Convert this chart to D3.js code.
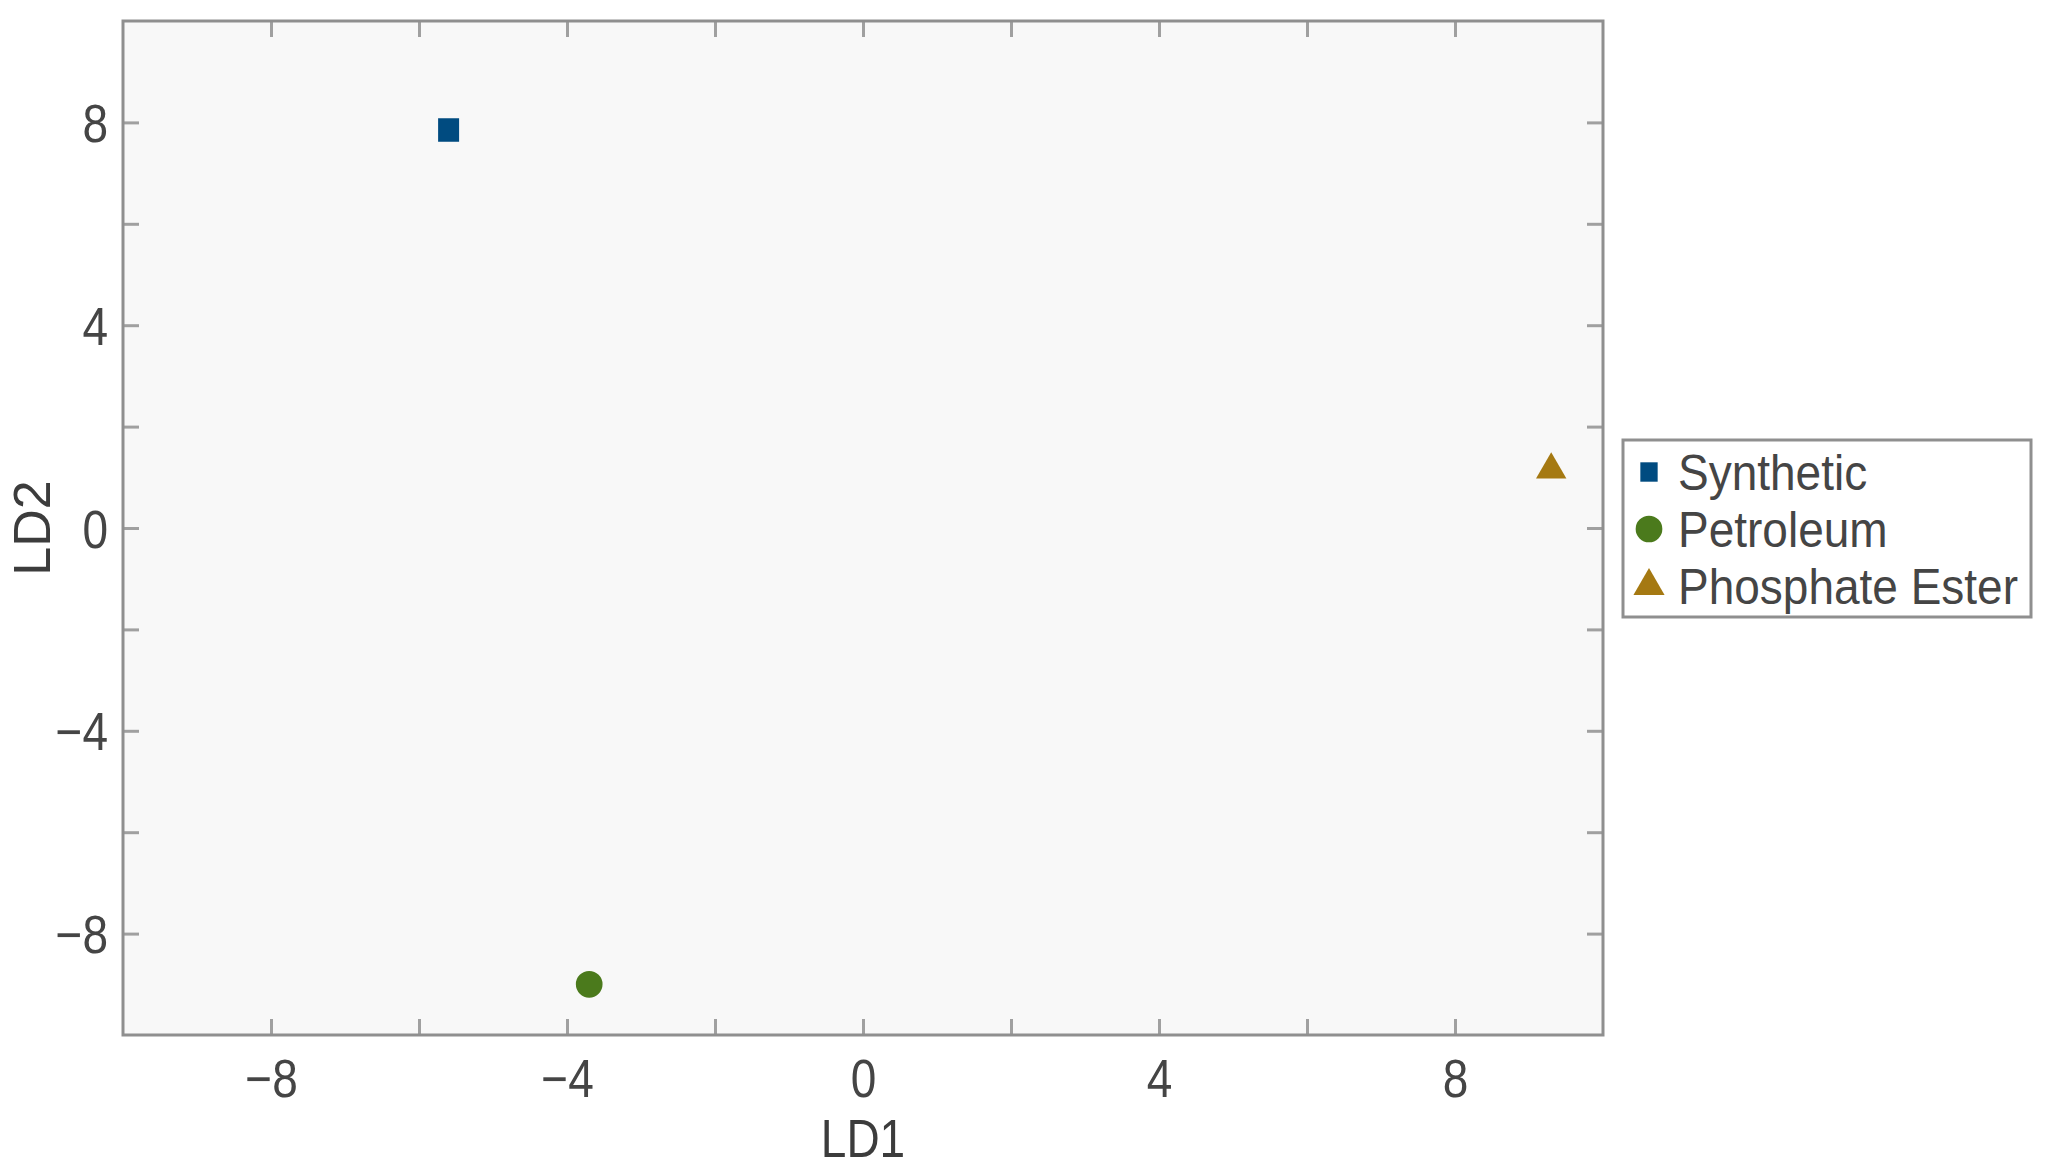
<!DOCTYPE html>
<html>
<head>
<meta charset="utf-8">
<script src="https://cdn.jsdelivr.net/npm/d3@7"></script>
<style>
  html, body { margin: 0; padding: 0; background: #ffffff; }
  svg { display: block; }
  text { font-family: "Liberation Sans", Arial, Helvetica, sans-serif; }
</style>
</head>
<body>
<svg id="chart" width="2049" height="1173"></svg>
<script>
// ---- data ----
const seriesNames = ["Synthetic", "Petroleum", "Phosphate Ester"];
const ld1Values = [-5.6, -3.7, 9.3];
const ld2Values = [7.85, -9.0, 1.15];
const seriesColors = ["#004b80", "#4b7a1c", "#a57912"];
const seriesShapes = ["square", "circle", "triangle"];
const xDomain = [-10, 10];
const yDomain = [-10, 10];
const tickValuesX = [-8, -6, -4, -2, 0, 2, 4, 6, 8];
const tickValuesY = [-8, -6, -4, -2, 0, 2, 4, 6, 8];
const labeledTicks = [-8, -4, 0, 4, 8];
const xLabel = "LD1";
const yLabel = "LD2";

// ---- layout ----
const W = 2049, H = 1173;
const plot = { left: 123, right: 1603, top: 21, bottom: 1035 };
const SY = 1.15; // vertical text stretch seen in the reference
const textColor = "#454545";
const axisColor = "#8f8f8f";

const svg = d3.select("#chart");
const x = d3.scaleLinear().domain(xDomain).range([plot.left, plot.right]);
const y = d3.scaleLinear().domain(yDomain).range([plot.bottom, plot.top]);

// plot background
svg.append("rect")
  .attr("x", plot.left).attr("y", plot.top)
  .attr("width", plot.right - plot.left).attr("height", plot.bottom - plot.top)
  .attr("fill", "#f8f8f8");

const fmt = d => labeledTicks.includes(d) ? d3.format("")(d) : "";

function styleAxis(g) {
  g.select(".domain").remove();
  g.selectAll(".tick line").attr("stroke", "#a0a0a0").attr("stroke-width", 3);
}

// bottom axis
const gx = svg.append("g").attr("transform", `translate(0,${plot.bottom})`)
  .call(d3.axisBottom(x).tickValues(tickValuesX).tickFormat(fmt).tickSizeInner(-16).tickSizeOuter(0));
styleAxis(gx);
gx.selectAll(".tick text")
  .attr("fill", textColor).attr("font-size", 46)
  .attr("y", 43 / SY).attr("dy", "0.36em")
  .attr("transform", `scale(1,${SY})`);

// top axis (mirrored ticks)
const gxt = svg.append("g").attr("transform", `translate(0,${plot.top})`)
  .call(d3.axisTop(x).tickValues(tickValuesX).tickFormat("").tickSizeInner(-16).tickSizeOuter(0));
styleAxis(gxt);

// left axis
const gy = svg.append("g").attr("transform", `translate(${plot.left},0)`)
  .call(d3.axisLeft(y).tickValues(tickValuesY).tickFormat(fmt).tickSizeInner(-16).tickSizeOuter(0));
styleAxis(gy);
gy.selectAll(".tick").each(function(d) {
  const t = d3.select(this).select("text");
  t.attr("fill", textColor).attr("font-size", 46)
   .attr("x", -15).attr("y", 0).attr("dy", "0.36em")
   .attr("text-anchor", "end")
   .attr("transform", `scale(1,${SY})`);
  // compensate translation: the tick group is translated; scale applies within text only
  t.attr("y", 0);
});

// right axis (mirrored ticks)
const gyr = svg.append("g").attr("transform", `translate(${plot.right},0)`)
  .call(d3.axisRight(y).tickValues(tickValuesY).tickFormat("").tickSizeInner(-16).tickSizeOuter(0));
styleAxis(gyr);

// frame
svg.append("rect")
  .attr("x", plot.left).attr("y", plot.top)
  .attr("width", plot.right - plot.left).attr("height", plot.bottom - plot.top)
  .attr("fill", "none").attr("stroke", axisColor).attr("stroke-width", 3);

// axis labels
svg.append("text")
  .attr("transform", `translate(${(plot.left + plot.right) / 2},1138) scale(1,${SY})`)
  .attr("text-anchor", "middle").attr("dy", "0.36em")
  .attr("font-size", 46).attr("fill", "#3c3c3c")
  .text(xLabel);

svg.append("text")
  .attr("transform", `translate(31,${(plot.top + plot.bottom) / 2}) rotate(-90)`)
  .attr("text-anchor", "middle").attr("dy", "0.36em")
  .attr("font-size", 52).attr("fill", "#3c3c3c")
  .text(yLabel);

// symbols
const symbolTypes = { square: d3.symbolSquare, circle: d3.symbolCircle, triangle: d3.symbolTriangle };
const symbolSizes = { square: 441, circle: 560, triangle: 400 };
const points = seriesNames.map((n, i) => ({
  name: n, x: ld1Values[i], y: ld2Values[i], color: seriesColors[i], shape: seriesShapes[i]
}));

svg.append("g").selectAll("path").data(points).join("path")
  .attr("d", d => d3.symbol(symbolTypes[d.shape], symbolSizes[d.shape])())
  .attr("transform", d => `translate(${x(d.x)},${y(d.y)}) scale(1,${d.shape === "square" ? 1.12 : 1})`)
  .attr("fill", d => d.color);

// legend
const legend = { x: 1623, y: 440, w: 408, h: 177 };
svg.append("rect")
  .attr("x", legend.x).attr("y", legend.y).attr("width", legend.w).attr("height", legend.h)
  .attr("fill", "#ffffff").attr("stroke", axisColor).attr("stroke-width", 3);

const legendRowY = d3.scalePoint().domain(seriesNames).range([472, 586]);
const lg = svg.append("g").selectAll("g").data(points).join("g")
  .attr("transform", d => `translate(${legend.x},${legendRowY(d.name)})`);
lg.append("path")
  .attr("d", d => d3.symbol(symbolTypes[d.shape], { square: 300, circle: 560, triangle: 420 }[d.shape])())
  .attr("transform", d => `translate(26,0) scale(1,${d.shape === "square" ? 1.12 : 1})`)
  .attr("fill", d => d.color);
lg.append("text")
  .attr("transform", `translate(55,0) scale(1,1.08)`)
  .attr("dy", "0.36em")
  .attr("font-size", 46).attr("fill", textColor)
  .text(d => d.name);
</script>
</body>
</html>
